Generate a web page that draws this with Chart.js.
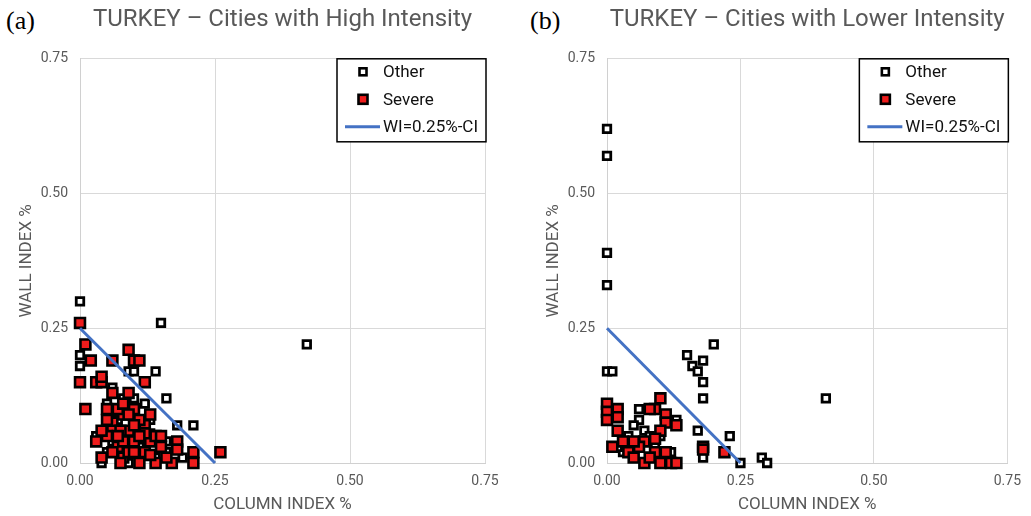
<!DOCTYPE html>
<html>
<head>
<meta charset="utf-8">
<script src="https://cdn.jsdelivr.net/npm/chart.js@4"></script>
<style>
  body { margin: 0; background: #fff; }
  #wrap { position: relative; width: 1031px; height: 516px; background: #fff; overflow: hidden; }
  .panel { position: absolute; top: 0; }
  .tag { position: absolute; top: 6px; font-family: "Liberation Serif", serif; font-size: 26px; color: #000; }
</style>
</head>
<body>
<div id="wrap">
  <div class="tag" style="left:6px">(a)</div>
  <div class="tag" style="left:530px">(b)</div>
  <div class="panel" style="left:0px"><canvas id="chartA" width="515" height="516"></canvas></div>
  <div class="panel" style="left:527px"><canvas id="chartB" width="504" height="516"></canvas></div>
</div>
<script>
// axis ticks (both charts)
const tickValues = [0, 0.25, 0.5, 0.75];

// WI = 0.25% - CI
const wiLine = [{x: 0, y: 0.25}, {x: 0.25, y: 0}];

// (a) cities with high intensity
const highOther = [
  {x: 0, y: 0.30}, {x: 0, y: 0.20}, {x: 0, y: 0.18}, {x: 0.15, y: 0.26}, {x: 0.42, y: 0.22},
  {x: 0.09, y: 0.17}, {x: 0.10, y: 0.17}, {x: 0.14, y: 0.17}, {x: 0.16, y: 0.12}, {x: 0.18, y: 0.07},
  {x: 0.21, y: 0.07}, {x: 0.06, y: 0.14}, {x: 0.05, y: 0.11}, {x: 0.12, y: 0.11}, {x: 0.13, y: 0.055},
  {x: 0.16, y: 0.04}, {x: 0.12, y: 0.045}, {x: 0.16, y: 0.02}, {x: 0.04, y: 0}, {x: 0.03, y: 0.05},
  {x: 0.08, y: 0.12}, {x: 0.10, y: 0.12}, {x: 0.07, y: 0.08}, {x: 0.11, y: 0.03}, {x: 0.14, y: 0.01},
  {x: 0.19, y: 0.01}, {x: 0.09, y: 0}, {x: 0.05, y: 0.02}, {x: 0.13, y: 0.08}, {x: 0.06, y: 0.04}
];
const highSevere = [
  {x: 0, y: 0.26}, {x: 0.01, y: 0.22}, {x: 0.02, y: 0.19}, {x: 0.06, y: 0.19}, {x: 0.09, y: 0.21},
  {x: 0.10, y: 0.19}, {x: 0.11, y: 0.19}, {x: 0, y: 0.15}, {x: 0.03, y: 0.15}, {x: 0.04, y: 0.15},
  {x: 0.04, y: 0.16}, {x: 0.12, y: 0.15}, {x: 0.06, y: 0.13}, {x: 0.09, y: 0.13}, {x: 0.01, y: 0.10},
  {x: 0.05, y: 0.10}, {x: 0.08, y: 0.09}, {x: 0.10, y: 0.10}, {x: 0.13, y: 0.09}, {x: 0.06, y: 0.075},
  {x: 0.12, y: 0.07}, {x: 0.09, y: 0.06}, {x: 0.06, y: 0.06}, {x: 0.075, y: 0.06}, {x: 0.03, y: 0.04},
  {x: 0.07, y: 0.03}, {x: 0.10, y: 0.04}, {x: 0.13, y: 0.04}, {x: 0.15, y: 0.03}, {x: 0.18, y: 0.04},
  {x: 0.18, y: 0.025}, {x: 0.04, y: 0.01}, {x: 0.08, y: 0.01}, {x: 0.11, y: 0}, {x: 0.14, y: 0},
  {x: 0.17, y: 0}, {x: 0.21, y: 0}, {x: 0.21, y: 0.02}, {x: 0.26, y: 0.02}, {x: 0.12, y: 0.02},
  {x: 0.05, y: 0.05}, {x: 0.07, y: 0.10}, {x: 0.08, y: 0.11}, {x: 0.11, y: 0.08}, {x: 0.12, y: 0.055},
  {x: 0.10, y: 0.07}, {x: 0.08, y: 0.04}, {x: 0.14, y: 0.05}, {x: 0.09, y: 0.02}, {x: 0.06, y: 0.02},
  {x: 0.13, y: 0.015}, {x: 0.16, y: 0.01}, {x: 0.075, y: 0}, {x: 0.04, y: 0.06}, {x: 0.05, y: 0.08},
  {x: 0.10, y: 0.02}, {x: 0.15, y: 0.05}, {x: 0.11, y: 0.05}, {x: 0.07, y: 0.05}, {x: 0.09, y: 0.09}
];

// (b) cities with lower intensity
const lowOther = [
  {x: 0, y: 0.62}, {x: 0, y: 0.57}, {x: 0, y: 0.39}, {x: 0, y: 0.33}, {x: 0, y: 0.17},
  {x: 0.01, y: 0.17}, {x: 0.15, y: 0.20}, {x: 0.20, y: 0.22}, {x: 0.16, y: 0.18}, {x: 0.17, y: 0.17},
  {x: 0.18, y: 0.19}, {x: 0.18, y: 0.15}, {x: 0.18, y: 0.12}, {x: 0.17, y: 0.06}, {x: 0.23, y: 0.05},
  {x: 0.18, y: 0.01}, {x: 0.25, y: 0}, {x: 0.29, y: 0.01}, {x: 0.30, y: 0}, {x: 0.41, y: 0.12},
  {x: 0.06, y: 0.10}, {x: 0.06, y: 0.08}, {x: 0.13, y: 0.08}, {x: 0.07, y: 0.06}, {x: 0.05, y: 0.07},
  {x: 0.08, y: 0.05}, {x: 0.03, y: 0.02}, {x: 0.09, y: 0.03}, {x: 0.11, y: 0.01}, {x: 0.10, y: 0.05},
  {x: 0.04, y: 0.05}, {x: 0.02, y: 0.03}, {x: 0.12, y: 0.02}
];
const lowSevere = [
  {x: 0, y: 0.11}, {x: 0, y: 0.095}, {x: 0, y: 0.08}, {x: 0.02, y: 0.10}, {x: 0.02, y: 0.085},
  {x: 0.10, y: 0.12}, {x: 0.09, y: 0.10}, {x: 0.08, y: 0.10}, {x: 0.11, y: 0.09}, {x: 0.11, y: 0.075},
  {x: 0.13, y: 0.07}, {x: 0.10, y: 0.06}, {x: 0.02, y: 0.06}, {x: 0.01, y: 0.03}, {x: 0.03, y: 0.04},
  {x: 0.04, y: 0.02}, {x: 0.07, y: 0.04}, {x: 0.06, y: 0.03}, {x: 0.05, y: 0.01}, {x: 0.07, y: 0},
  {x: 0.09, y: 0.02}, {x: 0.10, y: 0}, {x: 0.11, y: 0.02}, {x: 0.12, y: 0}, {x: 0.13, y: 0},
  {x: 0.18, y: 0.03}, {x: 0.18, y: 0.025}, {x: 0.22, y: 0.02}, {x: 0.09, y: 0.045}, {x: 0.05, y: 0.04},
  {x: 0.08, y: 0.01}
];

const grey = '#595959';
const font = 'Roboto';

// legend drawn inside the plot, top right corner
const boxLegend = {
  id: 'boxLegend',
  afterDatasetsDraw(chart) {
    const ctx = chart.ctx;
    const a = chart.chartArea;
    const w = 149, h = 83;
    const left = a.right - w + 1, top = a.top;
    ctx.save();
    ctx.fillStyle = '#fff';
    ctx.fillRect(left, top, w, h);
    ctx.lineWidth = 1.5;
    ctx.strokeStyle = '#000';
    ctx.strokeRect(left, top, w, h);
    ctx.font = '17px ' + font;
    ctx.textBaseline = 'middle';
    chart.data.datasets.forEach((ds, i) => {
      const y = top + 13 + i * 27.5;
      if (ds.showLine) {
        ctx.strokeStyle = ds.borderColor;
        ctx.lineWidth = 3;
        ctx.beginPath();
        ctx.moveTo(left + 8, y);
        ctx.lineTo(left + 43, y);
        ctx.stroke();
      } else {
        const s = ds.legendSize;
        ctx.fillStyle = ds.backgroundColor;
        ctx.strokeStyle = ds.borderColor;
        ctx.lineWidth = 2.6;
        ctx.fillRect(left + 26 - s / 2, y - s / 2, s, s);
        ctx.strokeRect(left + 26 - s / 2, y - s / 2, s, s);
      }
      ctx.fillStyle = '#111';
      ctx.fillText(ds.label, left + 46, y + 1);
    });
    ctx.restore();
  }
};

function makeChart(id, title, other, severe, padRight) {
  return new Chart(document.getElementById(id), {
    type: 'scatter',
    data: {
      datasets: [
        {
          label: 'Other', data: other, order: 3, clip: false,
          pointStyle: 'rect', pointRadius: 5.3, pointHoverRadius: 5.3,
          backgroundColor: '#fff', borderColor: '#000', borderWidth: 2.8, legendSize: 7
        },
        {
          label: 'Severe', data: severe, order: 2, clip: false,
          pointStyle: 'rect', pointRadius: 7, pointHoverRadius: 7,
          backgroundColor: '#ee1c1c', borderColor: '#000', borderWidth: 2.6, legendSize: 9
        },
        {
          label: 'WI=0.25%-CI', data: wiLine, order: 1, showLine: true,
          borderColor: '#4472c4', borderWidth: 3, pointRadius: 0, clip: false
        }
      ]
    },
    options: {
      responsive: false,
      animation: false,
      layout: { padding: { left: 0, right: padRight, top: 0, bottom: 0 } },
      plugins: {
        legend: { display: false },
        tooltip: { enabled: false },
        title: {
          display: true, text: title, fullSize: false, color: grey,
          font: { family: font, size: 24, weight: 'normal' },
          padding: { top: 6, bottom: 24 }
        }
      },
      scales: {
        x: {
          type: 'linear', min: 0, max: 0.75,
          afterBuildTicks: s => { s.ticks = tickValues.map(v => ({ value: v })); },
          afterFit: s => { s.height = 53; },
          grid: { color: '#d9d9d9', drawTicks: false },
          border: { color: '#d0d0d0' },
          ticks: { color: grey, padding: 10, font: { family: font, size: 14 }, callback: v => v.toFixed(2) },
          title: { display: true, text: 'COLUMN INDEX %', color: grey, font: { family: font, size: 17 }, padding: { top: 0, bottom: 1 } }
        },
        y: {
          type: 'linear', min: 0, max: 0.75,
          afterBuildTicks: s => { s.ticks = tickValues.map(v => ({ value: v })); },
          afterFit: s => { s.width = 80; },
          grid: { color: '#d9d9d9', drawTicks: false },
          border: { color: '#d0d0d0' },
          ticks: { color: grey, padding: 12, font: { family: font, size: 14 }, callback: v => v.toFixed(2) },
          title: { display: true, text: 'WALL INDEX %', color: grey, font: { family: font, size: 17 }, padding: { top: 17, bottom: 0 } }
        }
      }
    },
    plugins: [boxLegend]
  });
}

makeChart('chartA', 'TURKEY \u2013 Cities with High Intensity', highOther, highSevere, 30);
makeChart('chartB', 'TURKEY \u2013 Cities with Lower Intensity', lowOther, lowSevere, 19);
</script>
</body>
</html>
